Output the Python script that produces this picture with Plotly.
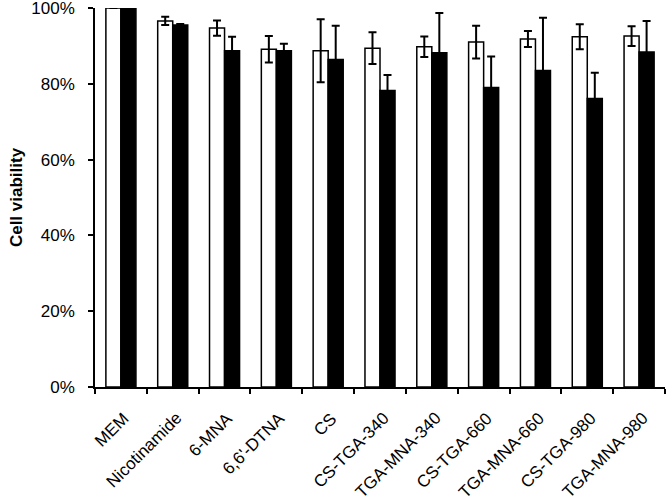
import plotly.graph_objects as go

categories = ["MEM", "Nicotinamide", "6-MNA", "6,6'-DTNA", "CS", "CS-TGA-340",
              "TGA-MNA-340", "CS-TGA-660", "TGA-MNA-660", "CS-TGA-980", "TGA-MNA-980"]
white_values = [100, 96.6, 94.7, 89.1, 88.7, 89.4, 89.8, 91.0, 91.8, 92.4, 92.6]
white_errors = [0, 1.1, 2.0, 3.5, 8.3, 4.2, 2.7, 4.3, 2.1, 3.3, 2.6]
black_values = [100, 95.5, 88.7, 88.7, 86.4, 78.2, 88.2, 79.0, 83.5, 76.1, 88.4]
black_errors = [0, 0.3, 3.7, 1.9, 8.9, 4.1, 10.5, 8.2, 13.9, 6.8, 8.2]
y_ticks = [0, 20, 40, 60, 80, 100]
y_tick_labels = ["0%", "20%", "40%", "60%", "80%", "100%"]

font_family = "Arial, Liberation Sans, sans-serif"

fig = go.Figure()
fig.add_trace(go.Bar(
    x=categories, y=white_values,
    marker=dict(color="white", line=dict(color="black", width=1.5)),
    error_y=dict(type="data", array=white_errors, color="black", thickness=2, width=4),
    showlegend=False, cliponaxis=False,
))
fig.add_trace(go.Bar(
    x=categories, y=black_values,
    marker=dict(color="black", line=dict(color="black", width=1.5)),
    error_y=dict(type="data", array=black_errors, color="black", thickness=2, width=4),
    showlegend=False, cliponaxis=False,
))

# category labels, rotated 45 degrees, ending just right of each group centre
for cat in categories:
    fig.add_annotation(
        x=cat, y=0, xref="x", yref="paper", text=cat, showarrow=False,
        textangle=-45, xanchor="right", yanchor="top",
        xshift=15, yshift=-19, font=dict(size=17, family=font_family, color="black"),
    )

fig.update_layout(
    width=666, height=501,
    margin=dict(l=95, r=1, t=8, b=114, autoexpand=False),
    plot_bgcolor="white", paper_bgcolor="white",
    barmode="group", bargap=0.42, bargroupgap=0,
    font=dict(family=font_family, size=17, color="black"),
    xaxis=dict(
        type="category", range=[-0.5, len(categories) - 0.5], autorange=False,
        tickson="boundaries", ticks="outside", ticklen=5,
        tickwidth=1.5, tickcolor="black", automargin=False,
        showline=True, linecolor="black", linewidth=1.5,
        showticklabels=False, showgrid=False,
    ),
    yaxis=dict(
        range=[0, 100], autorange=False, tickmode="array", tickvals=y_ticks, ticktext=y_tick_labels,
        ticks="outside", ticklen=5, tickwidth=1.5, tickcolor="black",
        showline=True, linecolor="black", linewidth=1.5, automargin=False,
        showgrid=False, zeroline=False, ticklabelstandoff=10,
        ticklabeloverflow="allow",
        tickfont=dict(size=17),
        title=dict(text="<b>Cell viability</b>", font=dict(size=17), standoff=4),
    ),
)

fig.write_html("out.html", config={"displayModeBar": False},
               post_script="document.body.style.margin = '0';")
